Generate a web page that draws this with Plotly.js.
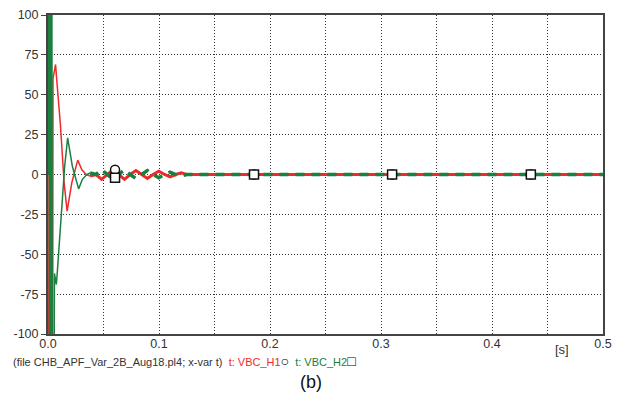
<!DOCTYPE html>
<html>
<head>
<meta charset="utf-8">
<script src="https://cdn.plot.ly/plotly-3.0.1.min.js"></script>
<style>html,body{margin:0;padding:0;background:#fff;}#chart{width:617px;height:394px;}</style>
</head>
<body>
<div id="chart"></div>
<script>
// VBC_H1 (red) – start-up transient
const h1TransT = [0, 0.0012, 0.0024, 0.0036, 0.0045, 0.0068, 0.0078, 0.0112, 0.0145, 0.0172, 0.0215, 0.0268, 0.0305, 0.0345, 0.038];
const h1TransV = [0, -500, 500, -500, 60, 69, 60, 31, -5, -23, -5, 9, 3, 0, -1];
// VBC_H2 (green) – start-up transient
const h2TransT = [0, 0.0006, 0.0018, 0.003, 0.0042, 0.0058, 0.0075, 0.0085, 0.0117, 0.015, 0.0177, 0.022, 0.0276, 0.031, 0.035, 0.038];
const h2TransV = [0, 500, -500, 500, -400, -62, -69, -60, -31, 5, 23, 5, -9, -3, 0, 1];
// settled part
const steadyT = [0.038, 0.0432, 0.0483, 0.0535, 0.0586, 0.0638, 0.0689, 0.0741, 0.0792, 0.0844, 0.0895, 0.0947, 0.0998, 0.105, 0.110, 0.115, 0.120, 0.125, 0.15, 0.2, 0.25, 0.3, 0.35, 0.4, 0.45, 0.5];
const h1SteadyV = [-1, 0, -3, 0, 3, 0, -3, 0, 2.5, 0, -2.5, 0, 2, 0, -1.5, 0, 1, 0, 0, 0, 0, 0, 0, 0, 0, 0];
const h2SteadyV = [1, 0, 3, 0, -3, 0, 3, 0, -2.5, 0, 2.5, 0, -2, 0, 1.5, 0, -1, 0, 0, 0, 0, 0, 0, 0, 0, 0];
// identification markers
const markerT = [0.0604, 0.1856, 0.31, 0.435];
const h1MarkV = [3, 0, 0, 0];
const h2MarkV = [-2, 0, 0, 0];
// tick labels
const yTickVals = [100, 75, 50, 25, 0, -25, -50, -75, -100];
const yTickText = ['100', '75', '50', '25', '0', '-25', '-50', '-75', '-100'];
const xTickVals = [0, 0.1, 0.2, 0.3, 0.4, 0.5];
const xTickText = ['0.0', '0.1', '0.2', '0.3', '0.4', '0.5'];

const RED = '#ee2a2a', GREEN = '#1a8040';

const traces = [
  {x: h1TransT, y: h1TransV, mode: 'lines', line: {color: RED, width: 1.5}, showlegend: false},
  {x: h2TransT, y: h2TransV, mode: 'lines', line: {color: GREEN, width: 1.5}, showlegend: false},
  {x: steadyT, y: h1SteadyV, mode: 'lines', line: {color: RED, width: 3}, showlegend: false},
  {x: steadyT, y: h2SteadyV, mode: 'lines', line: {color: GREEN, width: 3.5, dash: '9px,7px'}, showlegend: false},
  {x: markerT, y: h1MarkV, mode: 'markers', marker: {symbol: 'circle', size: 9, color: '#fff', line: {color: '#111', width: 1.5}}, showlegend: false},
  {x: markerT, y: h2MarkV, mode: 'markers', marker: {symbol: 'square', size: 9, color: '#fff', line: {color: '#111', width: 1.5}}, showlegend: false}
];

const font = {family: '"Liberation Sans", Arial, sans-serif', color: '#333'};
const GRID = '#333', GRIDDASH = '1px,2px';

const layout = {
  width: 617, height: 394,
  margin: {l: 48, r: 14, t: 15, b: 60},
  paper_bgcolor: '#fff', plot_bgcolor: '#fff',
  font: font,
  xaxis: {
    range: [0, 0.5], tickvals: xTickVals, ticktext: xTickText,
    showgrid: true, gridcolor: GRID, griddash: GRIDDASH, gridwidth: 1,
    minor: {dtick: 0.05, tick0: 0, showgrid: true, gridcolor: GRID, griddash: GRIDDASH, gridwidth: 1, ticks: ''},
    zeroline: false, showline: true, linecolor: '#444', linewidth: 2, mirror: true,
    ticks: '', ticklabelstandoff: -3,
    tickfont: {size: 12.5, color: '#333', family: font.family}
  },
  yaxis: {
    range: [-100, 100], tickvals: yTickVals, ticktext: yTickText,
    showgrid: true, gridcolor: GRID, griddash: GRIDDASH, gridwidth: 1,
    zeroline: false, showline: true, linecolor: '#444', linewidth: 2, mirror: true,
    ticks: 'outside', ticklen: 5, tickcolor: '#444',
    tickfont: {size: 12.5, color: '#333', family: font.family}
  },
  annotations: [
    {xref: 'paper', yref: 'paper', x: 0.926, y: -0.05, xanchor: 'center', yanchor: 'middle', showarrow: false,
     text: '[s]', font: {size: 13, color: '#333', family: font.family}},
    {xref: 'paper', yref: 'paper', x: -0.066, y: -0.0846, xanchor: 'left', yanchor: 'middle', showarrow: false,
     text: '(file CHB_APF_Var_2B_Aug18.pl4; x-var t)  <span style="color:' + RED + '">t: VBC_H1</span><span style="color:#000;font-size:14px">○</span>  <span style="color:' + GREEN + '">t: VBC_H2</span><span style="color:#000;font-size:14px">□</span>',
     font: {size: 11, color: '#333', family: font.family}},
    {xref: 'paper', yref: 'paper', x: 0.473, y: -0.152, xanchor: 'center', yanchor: 'middle', showarrow: false,
     text: '(b)', font: {size: 18, color: '#111', family: font.family}}
  ]
};

Plotly.newPlot('chart', traces, layout, {displayModeBar: false, staticPlot: true});
</script>
</body>
</html>
